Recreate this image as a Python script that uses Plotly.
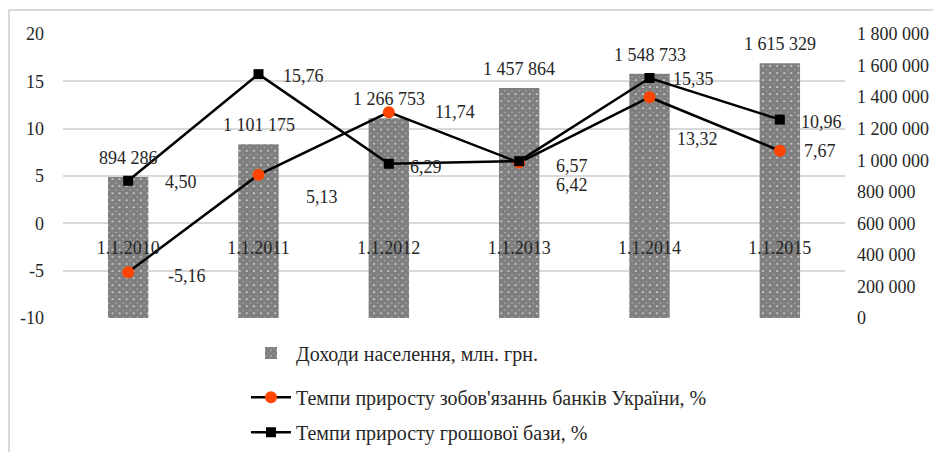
import plotly.graph_objects as go

categories = ["1.1.2010", "1.1.2011", "1.1.2012", "1.1.2013", "1.1.2014", "1.1.2015"]
income = [894286, 1101175, 1266753, 1457864, 1548733, 1615329]
bank_liab_growth = [-5.16, 5.13, 11.74, 6.42, 13.32, 7.67]
money_base_growth = [4.50, 15.76, 6.29, 6.57, 15.35, 10.96]
left_ticks = [-10, -5, 0, 5, 10, 15, 20]
left_tick_labels = ["-10", "-5", "0", "5", "10", "15", "20"]

name_bar = "Доходи населення, млн. грн."
name_liab = "Темпи приросту зобов'язаннь банків України, %"
name_base = "Темпи приросту грошової бази, %"

FONT = "Liberation Serif, DejaVu Serif, serif"
TXT = "#262626"
FS = 18

# page body has an 8px margin; figure is sized to fill the rest of the window
W, H = 933, 444
L, R, T, B = 55, 96, 26, 134
PW, PH = W - L - R, H - T - B

fig = go.Figure()

fig.add_trace(go.Bar(
    x=categories, y=income, name=name_bar, yaxis="y",
    width=0.31,
    marker=dict(color="white", line=dict(width=0),
                pattern=dict(shape="x", fgcolor="black", bgcolor="white", size=5, solidity=0.95)),
    legend="legend2",
))

fig.add_trace(go.Scatter(
    x=categories, y=bank_liab_growth, name=name_liab, yaxis="y2",
    mode="lines+markers",
    line=dict(color="black", width=2.5),
    marker=dict(color="#ff4500", size=12, symbol="circle"),
    legendgroup="b", cliponaxis=False,
))

fig.add_trace(go.Scatter(
    x=categories, y=money_base_growth, name=name_base, yaxis="y2",
    mode="lines+markers",
    line=dict(color="black", width=2.5),
    marker=dict(color="black", size=10, symbol="square"),
    legendgroup="c", cliponaxis=False,
))

# bar value labels
for c, v in zip(categories, income):
    fig.add_annotation(
        x=c, y=v, xref="x", yref="y",
        text=f"{v:,}".replace(",", " "),
        showarrow=False, yshift=19, yanchor="middle",
        font=dict(family=FONT, size=FS, color=TXT),
    )

# line value labels (left edge offset, vertical offset)
liab_shift = [(38, -4), (45, -22), (44, 0), (35, -22), (25, -42), (22, 0)]
base_shift = [(35, -1), (22, -2), (19, -3), (35, -5), (21, -1), (19, -2)]
for ys, shifts in ((bank_liab_growth, liab_shift), (money_base_growth, base_shift)):
    for c, v, (dx, dy) in zip(categories, ys, shifts):
        fig.add_annotation(
            x=c, y=v, xref="x", yref="y2",
            text=f"{v:.2f}".replace(".", ","),
            showarrow=False, xanchor="left", xshift=dx, yshift=dy,
            font=dict(family=FONT, size=FS, color=TXT),
        )

y0_frac = (0 - (-10)) / (20 - (-10))

fig.update_layout(
    width=W, height=H,
    margin=dict(l=L, r=R, t=T, b=B, autoexpand=False),
    paper_bgcolor="white", plot_bgcolor="white",
    separators=", ",
    font=dict(family=FONT, size=FS, color=TXT),
    bargap=0.5,
    showlegend=True,
    legend=dict(
        orientation="v", x=0.234, y=-0.21, xanchor="left", yanchor="top",
        font=dict(family=FONT, size=20, color=TXT),
        tracegroupgap=6, itemwidth=40,
    ),
    legend2=dict(
        orientation="v", x=0.234, y=-0.055, xanchor="left", yanchor="top",
        font=dict(family=FONT, size=20, color=TXT),
        itemwidth=40,
    ),
    xaxis=dict(
        type="category", anchor="free", position=y0_frac,
        showgrid=False, showline=False, ticks="", automargin=False,
        ticklabelstandoff=12,
        tickfont=dict(family=FONT, size=FS, color=TXT),
    ),
    yaxis=dict(
        side="right", range=[0, 1800000], dtick=200000,
        showgrid=False, zeroline=False, showline=False, automargin=False,
        tickformat=",.0f", ticklabelstandoff=11,
        tickfont=dict(family=FONT, size=FS, color=TXT),
    ),
    yaxis2=dict(
        overlaying="y", side="left", range=[-10, 20],
        tickmode="array", tickvals=left_ticks, ticktext=left_tick_labels,
        showgrid=True, gridcolor="#d9d9d9", gridwidth=1.5,
        zeroline=True, zerolinecolor="#d9d9d9", zerolinewidth=1.5,
        showline=False, automargin=False, ticklabelstandoff=18,
        tickfont=dict(family=FONT, size=FS, color=TXT),
    ),
)

# outer frame lines (top and left)
top_y = (H - B - 2) / PH
fig.add_shape(type="line", xref="paper", yref="paper",
              x0=-L / PW, x1=(W - L) / PW, y0=top_y, y1=top_y,
              line=dict(color="#d9d9d9", width=2))
fig.add_shape(type="line", xref="paper", yref="paper",
              x0=(1 - L) / PW, x1=(1 - L) / PW, y0=top_y, y1=-B / PH,
              line=dict(color="#d9d9d9", width=2))

fig.write_html("out.html")
